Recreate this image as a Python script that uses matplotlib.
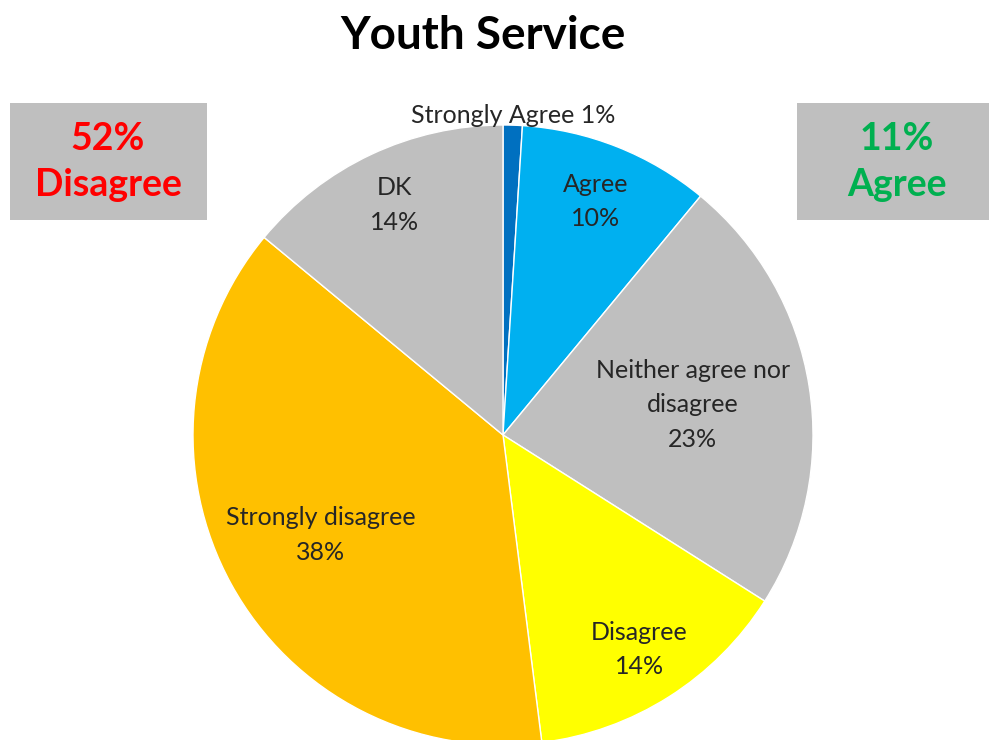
import numpy as np
import matplotlib
matplotlib.use('Agg')
import matplotlib.pyplot as plt
from matplotlib.patches import Rectangle

plt.rcParams['font.family'] = ['Lato', 'DejaVu Sans']

# survey answers, clockwise from the top
categories = ['Strongly Agree', 'Agree', 'Neither agree nor\ndisagree',
              'Disagree', 'Strongly disagree', 'DK']
values = [1, 10, 23, 14, 38, 14]
colors = ['#0070C0', '#00B0F0', '#BFBFBF', '#FFFF00', '#FFC000', '#BFBFBF']
# how far out each label sits (fraction of radius)
label_dist = [1.03, 0.81, 0.62, 0.82, 0.67, 0.82]

agree_total = values[0] + values[1]
disagree_total = values[3] + values[4]

W, H = 989, 740
fig = plt.figure(figsize=(W / 100, H / 100), dpi=100)
ax = fig.add_axes([0, 0, 1, 1])

cx, cy, r = 503, H - 435, 310
wedges, _ = ax.pie(values, colors=colors, startangle=90, counterclock=False,
                   center=(cx, cy), radius=r, frame=True,
                   wedgeprops=dict(edgecolor='white', linewidth=1))
ax.set_xlim(0, W)
ax.set_ylim(0, H)
ax.set_aspect('equal')
ax.axis('off')

for w, cat, v, d in zip(wedges, categories, values, label_dist):
    th = np.deg2rad((w.theta1 + w.theta2) / 2)
    x = cx + r * d * np.cos(th)
    y = cy + r * d * np.sin(th)
    if v < 5:
        txt = f'{cat} {v}%'
    else:
        txt = f'{cat}\n{v}%'
    ax.text(x, y, txt, ha='center', va='center', fontsize=18,
            color='#262626', linespacing=1.6)

ax.text(483, H - 36, 'Youth Service', ha='center', va='center',
        fontsize=33, fontweight='bold', color='black')

# summary boxes
ax.add_patch(Rectangle((10, H - 220), 197, 117, facecolor='#BFBFBF',
                       edgecolor='none'))
ax.text(108, H - 162, f'{disagree_total}%\nDisagree', ha='center',
        va='center', fontsize=27, fontweight='bold', color='#FF0000',
        linespacing=1.42)
ax.add_patch(Rectangle((797, H - 220), 192, 117, facecolor='#BFBFBF',
                       edgecolor='none'))
ax.text(897, H - 162, f'{agree_total}%\nAgree', ha='center',
        va='center', fontsize=27, fontweight='bold', color='#00B050',
        linespacing=1.42)

fig.savefig('out.png', dpi=100)
